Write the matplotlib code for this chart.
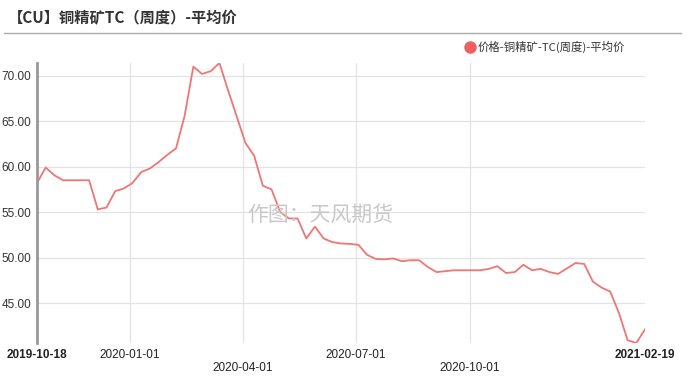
import numpy as np
import pandas as pd
import matplotlib
matplotlib.use('Agg')
import matplotlib.pyplot as plt
import matplotlib.dates as mdates
from matplotlib.lines import Line2D

plt.rcParams['font.family'] = ['Liberation Sans', 'Noto Sans CJK SC', 'DejaVu Sans']

# weekly data, 2019-10-18 .. 2021-02-19
dates = pd.date_range('2019-10-18', '2021-02-19', freq='W-FRI')
tc_price = [58.2, 59.9, 59.05, 58.5, 58.5, 58.5, 58.5, 55.3, 55.5, 57.3,
            57.6, 58.2, 59.4, 59.8, 60.5, 61.3, 62.0, 65.6, 71.0, 70.2,
            70.5, 71.4, 68.4, 65.5, 62.6, 61.2, 57.9, 57.5, 55.0, 54.3,
            54.3, 52.1, 53.4, 52.1, 51.7, 51.55, 51.5, 51.4, 50.3, 49.85,
            49.8, 49.9, 49.6, 49.7, 49.7, 48.96, 48.4, 48.5, 48.6, 48.6,
            48.6, 48.6, 48.75, 49.05, 48.3, 48.4, 49.2, 48.6, 48.75, 48.4,
            48.2, 48.8, 49.4, 49.3, 47.35, 46.7, 46.25, 43.9, 40.9, 40.6,
            42.1]
series_name = '价格-铜精矿-TC(周度)-平均价'
title = '【CU】铜精矿TC（周度）-平均价'
tick_dates = ['2019-10-18', '2020-01-01', '2020-04-01', '2020-07-01', '2020-10-01', '2021-02-19']
y_ticks = [45, 50, 55, 60, 65, 70]

line_color = '#f07575'

fig = plt.figure(figsize=(6.89, 3.84), dpi=100)
ax = fig.add_axes([37 / 689, 1 - 343 / 384, 608 / 689, 280 / 384])

ax.plot(dates, tc_price, color=line_color, linewidth=1.3)

ax.set_xlim(dates[0], dates[-1])
ax.set_ylim(min(tc_price), max(tc_price))

# grid
for d in tick_dates[1:-1]:
    ax.axvline(pd.Timestamp(d), color='#e3e3e3', linewidth=0.9, zorder=0)
ax.set_yticks(y_ticks)
ax.set_yticklabels([f'{v:.2f}' for v in y_ticks], fontsize=8.5, color='#333333')
ax.yaxis.grid(True, color='#e3e3e3', linewidth=0.9)
ax.set_axisbelow(True)

ax.set_xticks([pd.Timestamp(d) for d in tick_dates])
ax.set_xticklabels(tick_dates, fontsize=8.5, color='#222222')
labels = ax.get_xticklabels()
labels[0].set_fontweight('bold')
labels[-1].set_fontweight('bold')
for i, t in enumerate(ax.xaxis.get_major_ticks()):
    t.set_pad(14 if i in (2, 4) else 4)
ax.tick_params(axis='both', length=0)
ax.tick_params(axis='y', pad=4)

for s in ['top', 'right', 'bottom']:
    ax.spines[s].set_visible(False)
ax.spines['left'].set_color('#999999')
ax.spines['left'].set_linewidth(2)

# watermark
fig.text(0.465, 1 - 215 / 384, '作图：天风期货', fontsize=15, color='#c8c8c8',
         ha='center', va='center', family=['Noto Sans CJK SC', 'DejaVu Sans'])

# title and separator
fig.text(8 / 689, 1 - 18 / 384, title, fontsize=11, fontweight='bold', color='#333333',
         ha='left', va='center', family=['Noto Sans CJK SC', 'DejaVu Sans'])
fig.add_artist(Line2D([4 / 689, 681 / 689], [1 - 33 / 384, 1 - 33 / 384],
                      color='#aaaaaa', linewidth=1))

# legend
fig.add_artist(Line2D([470 / 689], [1 - 47 / 384], marker='o', markersize=8,
                      color='#f06060', linestyle='none'))
fig.text(478 / 689, 1 - 47 / 384, series_name, fontsize=8.2, color='#333333',
         ha='left', va='center', family=['Noto Sans CJK SC', 'DejaVu Sans'])

fig.savefig('out.png', dpi=100)
